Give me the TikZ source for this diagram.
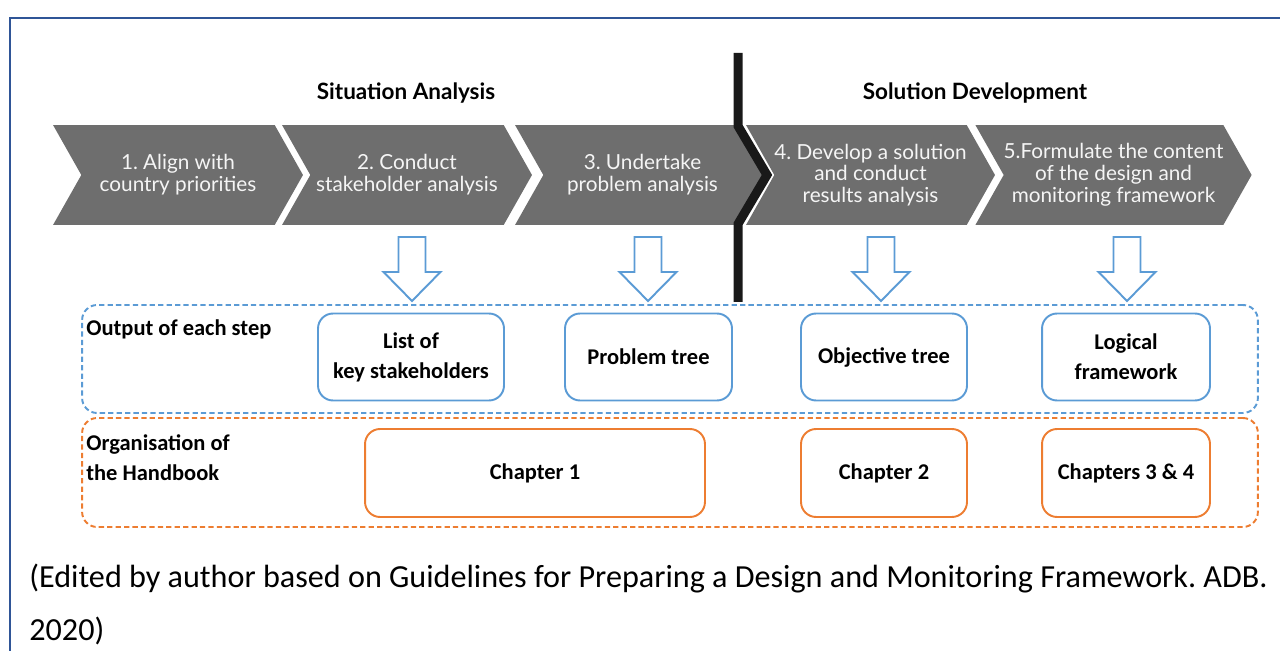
\documentclass[tikz,border=0pt]{standalone}
\usepackage{fontspec}
\setmainfont{Carlito}
\newfontfamily\latofont{Lato}
\usepackage{tikz}
\usetikzlibrary{positioning, calc}
\usetikzlibrary{shapes.symbols}

\definecolor{chevgray}{HTML}{6E6E6E}
\definecolor{outblue}{HTML}{5B9BD5}
\definecolor{chaporange}{HTML}{ED7D31}
\definecolor{frameblue}{HTML}{2F5597}

\begin{document}
\frenchspacing
\begin{tikzpicture}[x=0.02cm, y=-0.02cm]
	\def \headrow{93}
	\def \steprow{175}
	\def \outrow{357}
	\def \chaprow{473}

	\tikzstyle{step-node}=[signal, signal from=west, signal to=east, signal pointer angle=121, fill=chevgray, text=white!96!black, inner sep=0pt, minimum height=2cm, align=center, font=\latofont\fontsize{11.8}{12.4}\selectfont]
	\tikzstyle{head}=[font=\latofont\bfseries\fontsize{12.8}{14}\selectfont]
	\tikzstyle{out-node}=[draw=outblue, line width=1.1pt, rounded corners=0.3cm, minimum height=1.74cm, align=center, font=\bfseries\fontsize{12.8}{17}\selectfont]
	\tikzstyle{chap-node}=[draw=chaporange, line width=1.1pt, rounded corners=0.3cm, minimum height=1.76cm, align=center, font=\bfseries\fontsize{12.8}{17}\selectfont]
	\tikzstyle{out-frame}=[draw=outblue, line width=1.1pt, dash pattern=on 3pt off 1.8pt, rounded corners=0.3cm, minimum width=23.52cm]
	\tikzstyle{chap-frame}=[draw=chaporange, line width=1.1pt, dash pattern=on 3pt off 1.8pt, rounded corners=0.3cm, minimum width=23.52cm]
	\tikzstyle{out-arrow}=[draw=outblue, line width=1.1pt, fill=white, line join=miter]
	\tikzstyle{row-label}=[inner sep=0pt, align=left, font=\bfseries\fontsize{12.8}{17}\selectfont]
	\tikzstyle{divider}=[line width=0.18cm, black!90, line join=miter]

	\useasboundingbox (0,0) rectangle (1280,651);
	\draw[frameblue, line width=0.04cm] (1280,18) -- (10,18) -- (10,651);

	% phases
	\node[head] (situation) at (406,\headrow) {Situation Analysis};
	\node[head] (solution) at (975,\headrow) {Solution Development};

	% steps
	\node[step-node, minimum width=5cm] 	(step1)	at (178,\steprow)		{1. Align with\\country priorities};
	\node[step-node, minimum width=5cm] 	(step2)	at (407,\steprow)		{2. Conduct\\stakeholder analysis};
	\node[step-node, minimum width=5.1cm] 	(step3)	at (642.5,\steprow)	{3. Undertake\\problem analysis};
	\node[step-node, minimum width=4.98cm] 	(step4)	at (870.5,\steprow)	{4. Develop a solution\\and conduct\\results analysis};
	\node[step-node, minimum width=5.46cm] 	(step5)	at (1113.5,\steprow)	{5.Formulate the content\\of the design and\\monitoring framework};

	\draw[divider] (738,53) -- (738,126) -- (767,175) -- (738,224) -- (738,302);

	% frames of the two rows
	\node[out-frame, minimum height=2.16cm] 	(outputs)	at (670,359) 	{};
	\node[chap-frame, minimum height=2.18cm] 	(chapters)	at (670,472.5) 	{};

	\node[row-label, anchor=base west] 	(outlabel)	at (86,336) 	{Output of each step};
	\node[row-label, anchor=north west] (chaplabel)	at (86,434) 	{Organisation of\\the Handbook};

	% arrows from the steps
	\draw[out-arrow] (412,301) -- ++(-28.5,-29) -- ++(15,0) -- ++(0,-35) -- ++(27,0) -- ++(0,35) -- ++(15,0) -- cycle;
	\draw[out-arrow] (648,301) -- ++(-28.5,-29) -- ++(15,0) -- ++(0,-35) -- ++(27,0) -- ++(0,35) -- ++(15,0) -- cycle;
	\draw[out-arrow] (881,301) -- ++(-28.5,-29) -- ++(15,0) -- ++(0,-35) -- ++(27,0) -- ++(0,35) -- ++(15,0) -- cycle;
	\draw[out-arrow] (1127,301) -- ++(-28.5,-29) -- ++(15,0) -- ++(0,-35) -- ++(27,0) -- ++(0,35) -- ++(15,0) -- cycle;

	% outputs
	\node[out-node, minimum width=3.72cm] 	(out1)	at (411,\outrow)		{List of\\key stakeholders};
	\node[out-node, minimum width=3.34cm] 	(out2)	at (648.5,\outrow)	{Problem tree};
	\node[out-node, minimum width=3.32cm] 	(out3)	at (884,\outrow)		{Objective tree};
	\node[out-node, minimum width=3.36cm] 	(out4)	at (1126,\outrow)		{Logical\\framework};

	% chapters
	\node[chap-node, minimum width=6.8cm] 	(chap1)	at (535,\chaprow)		{Chapter 1};
	\node[chap-node, minimum width=3.32cm] 	(chap2)	at (884,\chaprow)		{Chapter 2};
	\node[chap-node, minimum width=3.36cm] 	(chap3)	at (1126,\chaprow)	{Chapters 3 \& 4};

	\node[anchor=north west, inner sep=0pt, align=left, font=\fontsize{18.3}{30}\selectfont] (source) at (29,564)
		{(Edited by author based on Guidelines for Preparing a Design and Monitoring Framework. ADB.\\2020)};
\end{tikzpicture}
\end{document}
